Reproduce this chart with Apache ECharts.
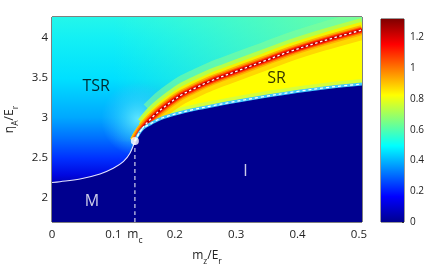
<!DOCTYPE html>
<html><head><meta charset="utf-8">
<script src="https://cdn.jsdelivr.net/npm/echarts@6/dist/echarts.min.js"></script>
<style>html,body{margin:0;padding:0;background:#fff}#c{width:436px;height:268px}</style>
</head><body><div id="c"></div>
<script>
// ---------- data ----------
const xTicks = [0, 0.1, 0.2, 0.3, 0.4, 0.5];
const yTicks = [2, 2.5, 3, 3.5, 4];
const cbTicks = [0, 0.2, 0.4, 0.6, 0.8, 1, 1.2];
const cbMax = 1.32;
const mcPoint = [0.135, 2.705];
const mCurve = [[0,2.185],[0.013,2.195],[0.0456,2.229],[0.0782,2.292],[0.0998,2.363],[0.1161,2.446],[0.127,2.552],[0.135,2.705]];
const ridgeCurve = [[0.135,2.705],[0.1454,2.843],[0.1564,2.947],[0.1673,3.031],[0.178,3.103],[0.1943,3.198],[0.2106,3.282],[0.2324,3.366],[0.2594,3.461],[0.2997,3.577],[0.3436,3.702],[0.3876,3.828],[0.4414,3.959],[0.5049,4.097]];
const boundaryCurve = [[0.135,2.705],[0.1401,2.781],[0.1482,2.865],[0.1617,2.927],[0.178,2.990],[0.2052,3.053],[0.2324,3.103],[0.2594,3.144],[0.2866,3.184],[0.3436,3.260],[0.399,3.326],[0.4528,3.380],[0.5049,3.420]];
const regionNames = ['TSR', 'SR', 'M', 'I'];
const regionAt = [[0.072,3.385],[0.366,3.486],[0.065,1.944],[0.315,2.33]];

// ---------- layout / style ----------
const X_MIN = 0, X_MAX = 0.505, Y_MIN = 1.69, Y_MAX = 4.26;
const FONT = "'Open Sans', sans-serif";
const NAVY = '#00008f';
const SM = 0.35;

function lg(x, y, x2, y2, stops) {
  return new echarts.graphic.LinearGradient(x, y, x2, y2, stops.map(s => ({offset: s[0], color: s[1]})));
}
function rg(stops) {
  return new echarts.graphic.RadialGradient(0.5, 0.5, 0.5, stops.map(s => ({offset: s[0], color: s[1]})));
}
function shape(z, build) {
  return {type: 'custom', coordinateSystem: 'cartesian2d', xAxisIndex: 0, yAxisIndex: 0,
    z: z, silent: true, clip: true, animation: false, data: [[0.25, 3]],
    renderItem: (p, api) => build(api)};
}
function poly(z, pts, fill, smooth) {
  return shape(z, api => ({type: 'polygon', shape: {points: pts.map(q => api.coord(q)), smooth: smooth || 0}, style: {fill: fill}}));
}
// polyline; dy = pixel shift (style offset of glow bands)
function pline(z, pts, stroke, width, dash, dy, cap) {
  return shape(z, api => ({type: 'polyline',
    shape: {points: pts.map(q => { const c = api.coord(q); return [c[0], c[1] + (dy || 0)]; }), smooth: SM},
    style: {stroke: stroke, lineWidth: width, fill: null, lineDash: dash || null, lineCap: cap || 'butt', lineJoin: 'round'}}));
}

const rLast = ridgeCurve[ridgeCurve.length - 1], bLast = boundaryCurve[boundaryCurve.length - 1];
const bgRect = [[X_MIN, Y_MIN], [X_MAX, Y_MIN], [X_MAX, Y_MAX], [X_MIN, Y_MAX]];
const greenRect = [[0.1, 2.7], [X_MAX, 2.7], [X_MAX, Y_MAX], [0.1, Y_MAX]];
const glowSq = [[mcPoint[0]-0.055, mcPoint[1]-0.2], [mcPoint[0]+0.065, mcPoint[1]-0.2], [mcPoint[0]+0.065, mcPoint[1]+0.75], [mcPoint[0]-0.055, mcPoint[1]+0.75]];
const srPoly = ridgeCurve.concat([[X_MAX+0.05, rLast[1]+0.1], [X_MAX+0.05, bLast[1]]], boundaryCurve.slice(1).reverse());
const navyPoly = [[X_MIN-0.05, mCurve[0][1]]].concat(mCurve, boundaryCurve.slice(1),
  [[X_MAX+0.05, bLast[1]+0.02], [X_MAX+0.05, Y_MIN-0.5], [X_MIN-0.05, Y_MIN-0.5]]);
const mcLine = [mcPoint, [mcPoint[0], Y_MIN]];
const ridgeTail = ridgeCurve.slice(1);
const ridgeTail2 = ridgeCurve.slice(2);

const jet = [[0,'#800000'],[0.125,'#ff0000'],[0.375,'#ffff00'],[0.625,'#00ffff'],[0.875,'#0000ff'],[1,'#00008f']];

const sub = {fontSize: 8.5, lineHeight: 24, fontFamily: FONT, color: '#222'};
const main = {fontSize: 12, lineHeight: 15, verticalAlign: 'top', fontFamily: FONT, color: '#222'};

const option = {
  animation: false,
  backgroundColor: '#fff',
  grid: [
    {left: 52, top: 17, width: 310, height: 205, show: true, borderColor: '#000', borderWidth: 1, backgroundColor: 'transparent', outerBoundsMode: 'none', containLabel: false},
    {left: 381, top: 19, width: 23, height: 203, show: true, borderColor: '#333', borderWidth: 1, outerBoundsMode: 'none', containLabel: false}
  ],
  xAxis: [
    {type: 'value', gridIndex: 0, min: X_MIN, max: X_MAX,
     name: '{a|m}{s|z}{a|/E}{s|r}', nameLocation: 'middle', nameGap: 23,
     nameTextStyle: {rich: {a: main, s: sub}},
     axisLine: {show: false}, axisTick: {show: false}, splitLine: {show: false},
     axisLabel: {customValues: xTicks.concat([mcPoint[0]]), margin: 7, fontSize: 11.5, fontFamily: FONT, color: '#222',
       formatter: v => Math.abs(v - mcPoint[0]) < 1e-6 ? '{m|m}{c|c}' : String(v),
       rich: {m: {fontSize: 12, lineHeight: 15, verticalAlign: 'top', fontFamily: FONT, color: '#222'},
              c: {fontSize: 8.5, lineHeight: 23, fontFamily: FONT, color: '#222'}}}},
    {type: 'category', gridIndex: 1, data: ['cb'], show: false}
  ],
  yAxis: [
    {type: 'value', gridIndex: 0, min: Y_MIN, max: Y_MAX,
     name: '{a|η}{s|A}{a|/E}{s|r}', nameLocation: 'middle', nameGap: 24, nameRotate: 90,
     nameTextStyle: {rich: {a: main, s: sub}},
     axisLine: {show: false}, axisTick: {show: false}, splitLine: {show: false},
     axisLabel: {customValues: yTicks, margin: 4, fontSize: 11.5, fontFamily: FONT, color: '#222', formatter: v => String(v)}},
    {type: 'value', gridIndex: 1, min: 0, max: cbMax, position: 'right',
     axisLine: {show: false}, splitLine: {show: false},
     axisTick: {show: true, inside: true, length: 2, customValues: cbTicks, lineStyle: {color: '#333'}},
     axisLabel: {customValues: cbTicks, margin: 6, fontSize: 10, fontFamily: FONT, color: '#222', formatter: v => String(v)}}
  ],
  series: [
    poly(1, bgRect, lg(0, 0, 0, 1, [[0,'#24f6ea'],[0.10,'#14f0f4'],[0.30,'#00e0ff'],[0.49,'#00a8ff'],[0.59,'#0070ff'],[0.69,'#0030ff'],[0.77,'#0008e0'],[0.81,'#0000b8'],[1,NAVY]])),
    poly(2, greenRect, lg(0, 0, 1, 0, [[0,'rgba(100,255,170,0)'],[1,'rgba(120,255,150,0.9)']])),
    poly(3, glowSq, rg([[0,'rgba(110,240,255,0.85)'],[0.55,'rgba(60,215,255,0.45)'],[1,'rgba(60,200,255,0)']])),
    pline(4, ridgeTail2, 'rgba(130,255,150,0.6)', 12, null, -13),
    pline(5, ridgeTail, '#b4ff4c', 8, null, -8),
    pline(6, ridgeTail, '#f2f400', 6, null, -5),
    poly(7, srPoly, '#ffff00', SM),
    pline(8, boundaryCurve, '#d6ff3a', 10),
    pline(9, ridgeTail, '#ffd800', 8, null, 6),
    pline(10, ridgeCurve, '#ffb000', 10),
    pline(10.5, ridgeCurve, '#ff7000', 7),
    pline(11, ridgeCurve, '#ff1a00', 4.5),
    pline(12, ridgeCurve, '#b40000', 2),
    poly(13, navyPoly, NAVY, SM),
    pline(14, boundaryCurve, '#40c8ff', 3),
    pline(15, boundaryCurve, '#ffffff', 1.2, [3, 3]),
    pline(16, ridgeCurve, '#ffffff', 1.3, [2.5, 2.5]),
    pline(17, mCurve, '#e6e6ff', 1.1),
    pline(18, mcLine, '#a8a8d8', 1.5, [4, 3]),
    {type: 'scatter', xAxisIndex: 0, yAxisIndex: 0, z: 19, silent: true, data: [mcPoint], symbolSize: 8,
     itemStyle: {color: '#ffffff'}},
    {type: 'scatter', xAxisIndex: 0, yAxisIndex: 0, z: 20, silent: true, symbolSize: 0,
     data: regionNames.map((n, i) => ({name: n, value: regionAt[i],
       label: {color: (n === 'M' || n === 'I') ? '#ffffff' : '#000000'}})),
     label: {show: true, position: 'inside', formatter: p => p.name, fontSize: 16, fontFamily: FONT}},
    {type: 'bar', xAxisIndex: 1, yAxisIndex: 1, data: [cbMax], barWidth: '100%', silent: true,
     itemStyle: {color: lg(0, 0, 0, 1, jet)}}
  ]
};
const chart = echarts.init(document.getElementById('c'));
chart.setOption(option);
</script>
</body></html>
